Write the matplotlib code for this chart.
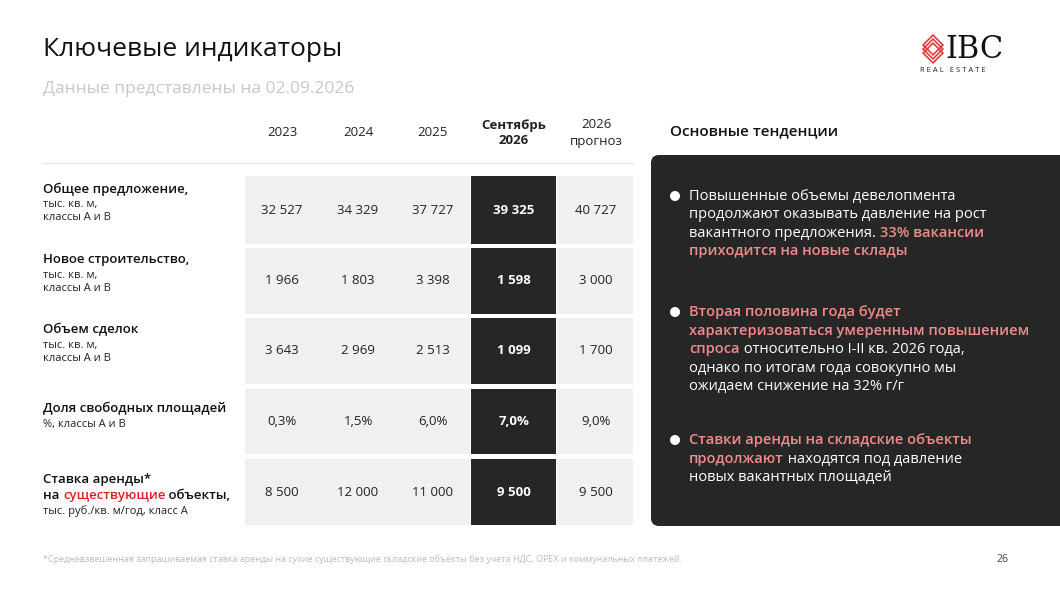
import matplotlib
matplotlib.use("Agg")
import matplotlib.pyplot as plt
from matplotlib.patches import Rectangle, FancyBboxPatch, Circle

plt.rcParams['font.family'] = ['Open Sans', 'DejaVu Sans']

years = ['2023', '2024', '2025', 'Сентябрь\n2026', '2026\nпрогноз']
row_titles = ['Общее предложение,', 'Новое строительство,', 'Объем сделок', 'Доля свободных площадей', 'Ставка аренды*']
row_subs = ['тыс. кв. м,\nклассы А и В', 'тыс. кв. м,\nклассы А и В', 'тыс. кв. м,\nклассы А и В',
            '%, классы А и В', 'тыс. руб./кв. м/год, класс А']
values = [
    ['32 527', '34 329', '37 727', '39 325', '40 727'],
    ['1 966', '1 803', '3 398', '1 598', '3 000'],
    ['3 643', '2 969', '2 513', '1 099', '1 700'],
    ['0,3%', '1,5%', '6,0%', '7,0%', '9,0%'],
    ['8 500', '12 000', '11 000', '9 500', '9 500'],
]
# bullets: list of lines, each line a list of (text, highlighted)
bullets = [
    [[('Повышенные объемы девелопмента', 0)],
     [('продолжают оказывать давление на рост', 0)],
     [('вакантного предложения. ', 0), ('33% вакансии', 1)],
     [('приходится на новые склады', 1)]],
    [[('Вторая половина года будет', 1)],
     [('характеризоваться умеренным повышением', 1)],
     [('спроса', 1), (' относительно I-II кв. 2026 года,', 0)],
     [('однако по итогам года совокупно мы', 0)],
     [('ожидаем снижение на 32% г/г', 0)]],
    [[('Ставки аренды на складские объекты', 1)],
     [('продолжают', 1), (' находятся под давление', 0)],
     [('новых вакантных площадей', 0)]],
]

DARK = '#262626'
PINK = '#f28b8b'
fig = plt.figure(figsize=(10.6, 5.98), dpi=100)
ax = fig.add_axes([0, 0, 1, 1])
ax.set_xlim(0, 1060)
ax.set_ylim(598, 0)
ax.axis('off')
renderer = fig.canvas.get_renderer()


def rich_line(x, y, segments):
    # segments: (text, kwargs); placed one after another on the same baseline
    for txt, kw in segments:
        t = ax.text(x, y, txt, va='baseline', **kw)
        bb = t.get_window_extent(renderer).transformed(ax.transData.inverted())
        x = max(bb.x0, bb.x1)


ax.text(43, 50, 'Ключевые индикаторы', fontsize=19, color='#111', va='center')
ax.text(43, 89, 'Данные представлены на 02.09.2026', fontsize=12.5, color='#c8c8c8', va='center')

# logo
for k in range(3):
    ax.add_patch(Rectangle((926, 38 + k * 4), 14, 14, angle=45, rotation_point='center',
                           fill=False, ec='#e03a3a', lw=1.2))
ax.text(945, 50, 'IBC', fontsize=22, family='DejaVu Serif', color='#111', va='center')
ax.text(920, 71, 'R E A L   E S T A T E', fontsize=5.5, color='#222', va='center')

# header
col_x = [282, 358, 433, 514, 596]
for i, y in enumerate(years):
    bold = i == 3
    ax.text(col_x[i], 133, y, ha='center', va='center', fontsize=9.5, color='#222',
            fontweight='bold' if bold else 'normal', linespacing=1.3)
ax.plot([43, 633], [163, 163], color='#e6e6e6', lw=1)

col_edges = [(245, 470), (471, 556), (557, 633)]
row_y = [(176, 244), (248, 314), (318, 384), (389, 454), (459, 525)]
for r, (y0, y1) in enumerate(row_y):
    for j, (x0, x1) in enumerate(col_edges):
        ax.add_patch(Rectangle((x0, y0), x1 - x0, y1 - y0, color=DARK if j == 1 else '#f0f0f0', lw=0))
    yc = (y0 + y1) / 2
    for i, v in enumerate(values[r]):
        ax.text(col_x[i], yc, v, ha='center', va='center', fontsize=9.5,
                color='white' if i == 3 else '#222', fontweight='bold' if i == 3 else 'normal')
    sub_lines = row_subs[r].count('\n') + 1
    top = yc - (9 + sub_lines * 8)
    if r == 4:
        ax.text(43, top + 4, row_titles[r], fontsize=9.5, va='center', color='#111', fontweight='semibold')
        kw = dict(fontsize=9.5, fontweight='semibold')
        rich_line(43, top + 24, [('на ', dict(color='#111', **kw)),
                                 ('существующие', dict(color='#e02020', **kw)),
                                 (' объекты,', dict(color='#111', **kw))])
        ax.text(43, top + 36, row_subs[r], fontsize=8, va='center', color='#222')
    else:
        ax.text(43, top + 4, row_titles[r], fontsize=9.5, va='center', color='#111', fontweight='semibold')
        ax.text(43, top + 14, row_subs[r], fontsize=8, va='top', color='#222', linespacing=1.3)

# right panel
ax.text(670, 131, 'Основные тенденции', fontsize=11, va='center', color='#111', fontweight='semibold')
ax.add_patch(FancyBboxPatch((651, 155), 430, 371, boxstyle='round,pad=0,rounding_size=8',
                            color=DARK, lw=0))
starts = [196, 312, 440]
for b, lines in enumerate(bullets):
    ax.add_patch(Circle((675, starts[b]), 5, color='white', lw=0))
    for li, line in enumerate(lines):
        y = starts[b] + li * 18.5 + 4
        rich_line(689, y, [(txt, dict(fontsize=10.5, color=PINK if hl else 'white',
                                      fontweight='semibold' if hl else 'normal'))
                           for txt, hl in line])

ax.text(43, 559, '*Средневзвешенная запрашиваемая ставка аренды на сухие существующие складские объекты '
        'без учета НДС, OPEX и коммунальных платежей.', fontsize=6.5, color='#bbbbbb', va='center')
ax.text(1008, 559, '26', fontsize=7.5, color='#444', ha='right', va='center')

fig.savefig('out.png', dpi=100)
